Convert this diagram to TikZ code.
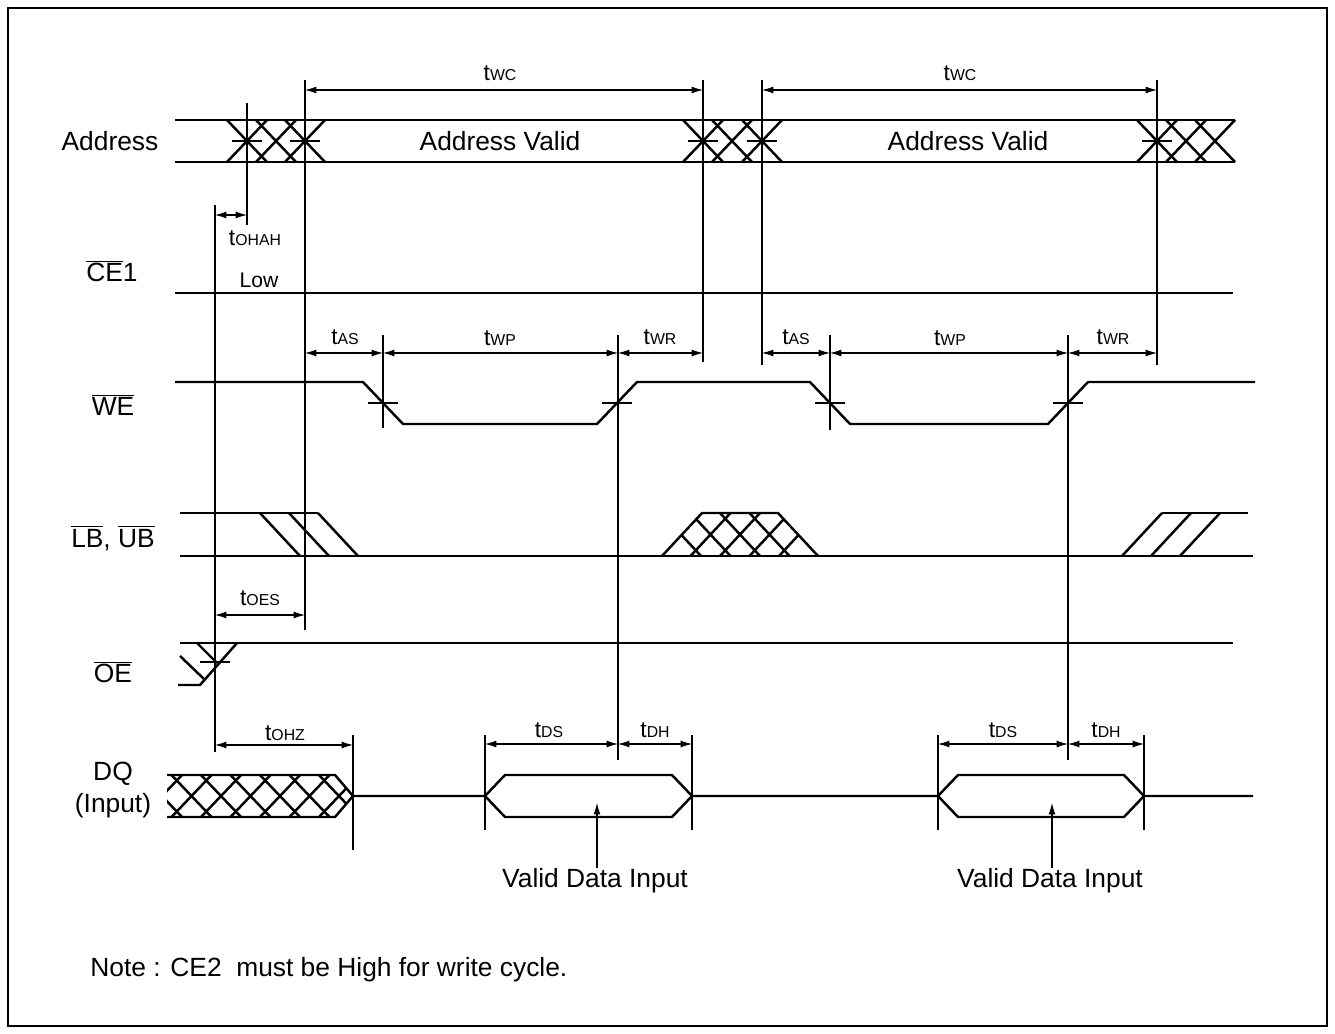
\documentclass[tikz,border=0pt]{standalone}
\usepackage{fontspec}
\setmainfont{Liberation Sans}
\usepackage{tikz}
\usetikzlibrary{arrows.meta}
\newcommand{\tpar}[1]{{\fontsize{13}{15}\selectfont t}{\fontsize{9}{10}\selectfont #1}}
\newcommand{\negsig}[1]{$\overline{\mbox{#1}}$}

\begin{document}
\begin{tikzpicture}[x=0.02cm, y=-0.02cm,
		sig/.style={line width=1.4pt},
		guide/.style={line width=0.6pt},
		dim/.style={line width=0.6pt, {Latex[length=6.5pt,width=4pt]}-{Latex[length=6.5pt,width=4pt]}},
		signame/.style={font=\fontsize{15}{18}\selectfont, inner sep=0pt},
		tlabel/.style={inner sep=0pt}]
		\useasboundingbox (0, 0) rectangle (1335, 1034);
		\draw[guide] (8, 8) rectangle (1327, 1026);

		% time marks and their guide lines
		\foreach \n/\x/\ya/\yb in {oh/215/205/752, a1/247/103/225, a2/305/80/630, hz/353/735/850,
				w1/383/335/428, d1/485/735/830, w2/618/335/760, h1/692/735/830, a3/703/80/362,
				a4/762/80/365, w3/830/335/430, d2/938/735/830, w4/1068/335/760, h2/1144/735/830, a5/1157/80/365}{
			\coordinate (\n) at (\x, 0);
			\draw[guide] (\x, \ya) -- (\x, \yb);
		}

		% signal names
		\node[signame] (lAddr) at (110, 141) {Address};
		\node[signame] (lCE) at (112, 271) {\negsig{CE}1};
		\node[signame] (lWE) at (113, 405) {\negsig{WE}};
		\node[signame] (lLB) at (113, 538) {\negsig{LB}, \negsig{UB}};
		\node[signame] (lOE) at (113, 672) {\negsig{OE}};
		\node[signame, align=center] (lDQ) at (113, 790) {DQ\\(Input)};

		% Address
		\draw[sig] (175, 120) -- (1235, 120);
		\draw[sig] (175, 162) -- (1235, 162);
		\foreach \c in {247, 276, 305, 703, 732, 762, 1157, 1186, 1215}
			\draw[sig] ({\c-20}, 120) -- ({\c+20}, 162) ({\c-20}, 162) -- ({\c+20}, 120);
		\foreach \c in {247, 305, 703, 762, 1157}
			\draw[guide] ({\c-15}, 141) -- ({\c+15}, 141);
		\node[signame] (av1) at (500, 141) {Address Valid};
		\node[signame] (av2) at (968, 141) {Address Valid};

		% CE1
		\draw[sig] (175, 293) -- (1233, 293);
		\node[font=\fontsize{12}{14}\selectfont, inner sep=0pt] (low) at (259, 280) {Low};

		% WE
		\draw[sig] (175, 382) -- (363, 382) -- (403, 424) -- (597, 424) -- (637, 382) -- (810, 382)
			-- (850, 424) -- (1048, 424) -- (1088, 382) -- (1255, 382);
		\foreach \c in {383, 617, 830, 1068}
			\draw[guide] ({\c-15}, 403) -- ({\c+15}, 403);

		% LB, UB
		\draw[sig] (180, 513) -- (318, 513);
		\draw[sig] (180, 556) -- (1253, 556);
		\foreach \c in {260, 289, 318}
			\draw[sig] (\c, 513) -- ({\c+40}, 556);
		\draw[sig] (662, 556) -- (702, 513) -- (778, 513) -- (818, 556);
		\begin{scope}
			\clip (662, 556) -- (702, 513) -- (778, 513) -- (818, 556) -- cycle;
			\foreach \c in {681, 710.5, 740, 769.5, 799}
				\draw[sig] ({\c-20}, 513) -- ({\c+20}, 556) ({\c-20}, 556) -- ({\c+20}, 513);
		\end{scope}
		\foreach \c in {1122, 1151, 1180}
			\draw[sig] (\c, 556) -- ({\c+40}, 513);
		\draw[sig] (1162, 513) -- (1248, 513);

		% OE
		\draw[sig] (180, 643) -- (1233, 643);
		\draw[sig] (197, 643) -- (217, 663);
		\draw[sig] (237, 643) -- (200, 685) -- (178, 685);
		\draw[sig] (180, 656) -- (205, 680);
		\draw[guide] (200, 662) -- (230, 662);

		% DQ
		\begin{scope}
			\clip (167, 775) -- (335, 775) -- (353, 796) -- (335, 817) -- (167, 817) -- cycle;
			\foreach \c in {162, 191.5, 221, 250.5, 280, 309.5, 339}
				\draw[sig] ({\c-20}, 775) -- ({\c+20}, 817) ({\c-20}, 817) -- ({\c+20}, 775);
		\end{scope}
		\draw[sig] (167, 775) -- (335, 775) -- (353, 796) -- (335, 817) -- (167, 817);
		\draw[sig] (353, 796) -- (485, 796) -- (505, 775) -- (672, 775) -- (692, 796) -- (938, 796)
			-- (958, 775) -- (1124, 775) -- (1144, 796) -- (1253, 796);
		\draw[sig] (485, 796) -- (505, 817) -- (672, 817) -- (692, 796);
		\draw[sig] (938, 796) -- (958, 817) -- (1124, 817) -- (1144, 796);
		\node[signame] (vd1) at (595, 881) {Valid Data Input};
		\node[signame] (vd2) at (1050, 881) {Valid Data Input};
		\draw[guide, -{Latex[length=6.5pt,width=4pt]}] (vd1.north -| 597, 0) -- (597, 803);
		\draw[guide, -{Latex[length=6.5pt,width=4pt]}] (vd2.north -| 1052, 0) -- (1052, 803);

		% timing arrows
		\draw[dim] (a2 |- 0, 90) -- (a3 |- 0, 90);
		\draw[dim] (a4 |- 0, 90) -- (a5 |- 0, 90);
		\node[tlabel] (twc1) at (500, 73) {\tpar{WC}};
		\node[tlabel] (twc2) at (960, 73) {\tpar{WC}};
		\draw[dim] (oh |- 0, 215) -- (a1 |- 0, 215);
		\node[tlabel] (tohah) at (255, 238) {\tpar{OHAH}};
		\draw[dim] (a2 |- 0, 353) -- (w1 |- 0, 353);
		\draw[dim] (w1 |- 0, 353) -- (w2 |- 0, 353);
		\draw[dim] (w2 |- 0, 353) -- (a3 |- 0, 353);
		\draw[dim] (a4 |- 0, 353) -- (w3 |- 0, 353);
		\draw[dim] (w3 |- 0, 353) -- (w4 |- 0, 353);
		\draw[dim] (w4 |- 0, 353) -- (a5 |- 0, 353);
		\node[tlabel] (tas1) at (345, 337) {\tpar{AS}};
		\node[tlabel] (twp1) at (500, 338) {\tpar{WP}};
		\node[tlabel] (twr1) at (660, 337) {\tpar{WR}};
		\node[tlabel] (tas2) at (796, 337) {\tpar{AS}};
		\node[tlabel] (twp2) at (950, 338) {\tpar{WP}};
		\node[tlabel] (twr2) at (1113, 337) {\tpar{WR}};
		\draw[dim] (oh |- 0, 615) -- (a2 |- 0, 615);
		\node[tlabel] (toes) at (260, 598) {\tpar{OES}};
		\draw[dim] (oh |- 0, 745) -- (hz |- 0, 745);
		\node[tlabel] (tohz) at (285, 733) {\tpar{OHZ}};
		\draw[dim] (d1 |- 0, 744) -- (w2 |- 0, 744);
		\draw[dim] (w2 |- 0, 744) -- (h1 |- 0, 744);
		\draw[dim] (d2 |- 0, 744) -- (w4 |- 0, 744);
		\draw[dim] (w4 |- 0, 744) -- (h2 |- 0, 744);
		\node[tlabel] (tds1) at (549, 730) {\tpar{DS}};
		\node[tlabel] (tdh1) at (655, 730) {\tpar{DH}};
		\node[tlabel] (tds2) at (1003, 730) {\tpar{DS}};
		\node[tlabel] (tdh2) at (1106, 730) {\tpar{DH}};

		% note
		\node[signame, anchor=west] (note) at (90, 970) {Note : CE2~~must be High for write cycle.};
	\end{tikzpicture}
\end{document}
